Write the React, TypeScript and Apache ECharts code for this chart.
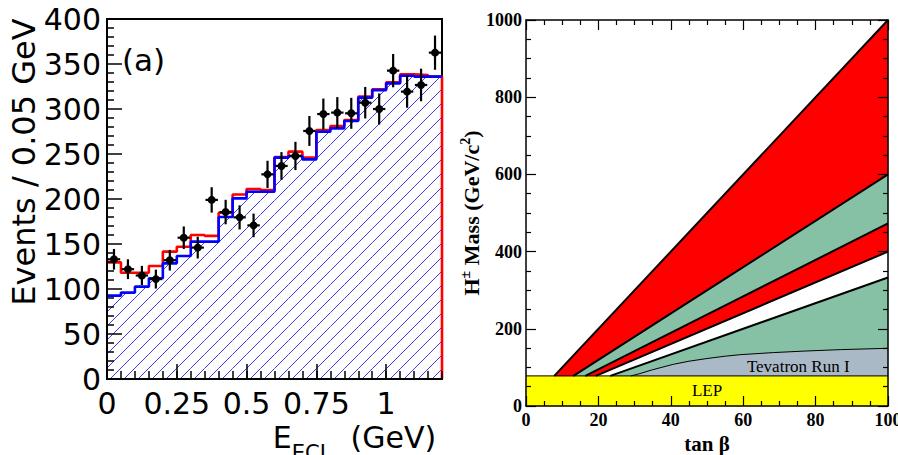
import React, { useEffect, useRef } from 'react';
import * as echarts from 'echarts';

// ---------------- Panel (a): E_ECL distribution ----------------
const binEdges = [0, 0.05, 0.1, 0.15, 0.2, 0.25, 0.3, 0.35, 0.4, 0.45, 0.5, 0.55, 0.6, 0.65, 0.7, 0.75, 0.8, 0.85, 0.9, 0.95, 1.0, 1.05, 1.1, 1.15, 1.2];
const dataCounts = [133, 122, 115, 111, 132, 157, 146, 199, 185.5, 179.6, 170.7, 227.4, 236.7, 247.8, 275.6, 294.4, 296, 295.2, 307, 300, 342.6, 319.3, 326.7, 362.6];
const dataErrors = [11.5, 11, 10.7, 10.5, 11.5, 12.5, 12.1, 14.1, 13.6, 13.4, 13.1, 15.1, 15.4, 15.7, 16.6, 17.2, 17.2, 17.2, 17.5, 17.3, 18.5, 17.9, 18.1, 19];
const backgroundCounts = [92.6, 96, 102.6, 112, 128.5, 136.7, 152.6, 152.6, 180, 200.7, 208, 208, 246, 247.8, 244, 274.8, 278.5, 286.7, 312.6, 321, 328.5, 337, 336, 336];
const totalCounts = [129.6, 118, 118, 125.5, 141.5, 147, 160, 159, 184.8, 205, 211, 210, 246.7, 252.6, 246, 276.7, 281, 287.8, 313.7, 322, 329.6, 338.5, 337.8, 336];

// ---------------- Panel (b): charged Higgs exclusion ----------------
const LEP_LIMIT = 78;
const boundary1 = [[7.8, 78], [100, 1000]];
const boundary2 = [[13.1, 78], [100, 600]];
const boundary3 = [[16.4, 78], [100, 473]];
const boundary4 = [[19.3, 78], [100, 400]];
const boundary5 = [[23.3, 78], [100, 333]];
const tevatronCurve = [[29, 78], [31.5, 84], [35, 94], [40.7, 108], [45, 116], [50, 123], [55, 129], [59.2, 133], [68.4, 138.4], [77.6, 142.6], [86.8, 146], [100, 149.5]];
const regionLabels = ['Tevatron Run I', 'LEP'];
const regionLabelAt = [[75.2, 103], [50, 39]];

const RED = '#ff0000';
const GREEN = '#86c1a5';
const GREY = '#a9bac6';
const YELLOW = '#ffff00';

const SANS = 'DejaVu Sans';
const SERIF = 'Liberation Serif';

const HATCH_SPACING = 14;
const HATCH_PHASE = 13;

function histPoints(counts: number[]) {
  return binEdges.map((e, i) => [e, counts[Math.min(i, counts.length - 1)]]);
}

function renderHatch(params: any, api: any) {
  const x0 = api.value(0), x1 = api.value(1), h = api.value(2);
  const pA = api.coord([x0, 0]);
  const pB = api.coord([x1, h]);
  const xa = pA[0], xb = pB[0], ybot = pA[1], ytop = pB[1];
  const children: any[] = [];
  const kStart = Math.ceil((xa + ytop - HATCH_PHASE) / HATCH_SPACING);
  const kEnd = Math.floor((xb + ybot - HATCH_PHASE) / HATCH_SPACING);
  for (let k = kStart; k <= kEnd; k++) {
    const c = k * HATCH_SPACING + HATCH_PHASE;
    const xs = Math.max(xa, c - ybot);
    const xe = Math.min(xb, c - ytop);
    if (xe - xs > 0.01) {
      children.push({
        type: 'line',
        shape: { x1: xs, y1: c - xs, x2: xe, y2: c - xe },
        style: { stroke: '#3a3aff', lineWidth: 1 },
      });
    }
  }
  return { type: 'group', children };
}

function renderPoint(params: any, api: any) {
  const x0 = api.value(0), x1 = api.value(1), y = api.value(2), err = api.value(3);
  const xm = (x0 + x1) / 2;
  const c = api.coord([xm, y]);
  const lo = api.coord([xm, y - err]);
  const hi = api.coord([xm, y + err]);
  const l = api.coord([x0, y]);
  const r = api.coord([x1, y]);
  const st = { stroke: '#000', lineWidth: 2.2 };
  return {
    type: 'group',
    children: [
      { type: 'line', shape: { x1: c[0], y1: lo[1], x2: c[0], y2: hi[1] }, style: st },
      { type: 'line', shape: { x1: l[0] + 0.8, y1: c[1], x2: r[0] - 0.8, y2: c[1] }, style: st },
      { type: 'circle', shape: { cx: c[0], cy: c[1], r: 4 }, style: { fill: '#000' } },
    ],
  };
}

function polygonSeries(points: number[][], color: string) {
  return {
    type: 'custom',
    xAxisIndex: 2,
    yAxisIndex: 1,
    z: 1,
    silent: true,
    data: [[points[0][0], points[0][1]]],
    renderItem: (params: any, api: any) => ({
      type: 'polygon',
      shape: { points: points.map((p) => api.coord(p)) },
      style: { fill: color, stroke: color, lineWidth: 0.5 },
    }),
  };
}

function boundarySeries(points: number[][], width: number) {
  return {
    type: 'line',
    xAxisIndex: 2,
    yAxisIndex: 1,
    z: 3,
    symbol: 'none',
    silent: true,
    data: points,
    lineStyle: { color: '#000', width },
  };
}

export default function App() {
  const ref = useRef<HTMLDivElement>(null);

  useEffect(() => {
    if (!ref.current) return;
    const chart = echarts.init(ref.current, undefined, { renderer: 'svg' });

    const binRows = backgroundCounts.map((v, i) => [binEdges[i], binEdges[i + 1], v]);
    const pointRows = dataCounts.map((v, i) => [binEdges[i], binEdges[i + 1], v, dataErrors[i]]);
    const redPts = histPoints(totalCounts);
    redPts.push([binEdges[binEdges.length - 1], 0]);
    const bluePts = histPoints(backgroundCounts);

    const lepPoly = [[0, 0], [100, 0], [100, LEP_LIMIT], [0, LEP_LIMIT]];
    const tevPoly = [...tevatronCurve, [100, LEP_LIMIT]];
    const greenLow = [boundary5[0], boundary5[1], ...[...tevatronCurve].reverse()];
    const redMid = [boundary3[0], boundary3[1], boundary4[1], boundary4[0]];
    const greenMid = [boundary2[0], boundary2[1], boundary3[1], boundary3[0]];
    const redTop = [boundary1[0], boundary1[1], boundary2[1], boundary2[0]];

    const leftTick = { show: true, inside: true, length: 15, lineStyle: { color: '#000', width: 1.5 } };
    const rightAxisCommon = {
      gridIndex: 1,
      z: 10,
      splitLine: { show: false },
      axisLine: { show: true, onZero: false, lineStyle: { color: '#000', width: 1.5 } },
      axisTick: { show: true, inside: true, length: 10, lineStyle: { color: '#000', width: 1.2 } },
      minorTick: { show: true, splitNumber: 4, length: 5, lineStyle: { color: '#000', width: 1.2 } },
    };
    const serifLabel = { fontFamily: SERIF, fontWeight: 'bold', fontSize: 18, color: '#000', formatter: (v: number) => String(v) };

    chart.setOption({
      animation: false,
      backgroundColor: '#fff',
      grid: [
        { left: 107, top: 19, width: 335, height: 360, show: true, borderColor: '#000', borderWidth: 2, backgroundColor: 'transparent', outerBoundsMode: 'none', containLabel: false },
        { left: 526, top: 20, width: 362, height: 386, show: false, outerBoundsMode: 'none', containLabel: false },
      ],
      xAxis: [
        {
          gridIndex: 0, type: 'value', min: 0, max: 1.2, interval: 0.25, position: 'bottom', z: 10,
          splitLine: { show: false },
          axisLine: { show: true, onZero: false, lineStyle: { color: '#000', width: 2 } },
          axisTick: leftTick,
          axisLabel: { fontFamily: SANS, fontSize: 30, color: '#000', margin: 9, showMaxLabel: false, formatter: (v: number) => String(v) },
          name: '{a|E}{s|ECL}{a|  (GeV)}',
          nameLocation: 'middle',
          nameGap: 37,
          nameTextStyle: {
            align: 'center', verticalAlign: 'top', padding: [0, 0, 0, 160],
            rich: {
              a: { fontFamily: SANS, fontSize: 30, lineHeight: 34, color: '#000', verticalAlign: 'top' },
              s: { fontFamily: SANS, fontSize: 21, lineHeight: 21, padding: [20, 0, 0, 0], color: '#000', verticalAlign: 'top' },
            },
          },
        },
        {
          gridIndex: 0, type: 'value', min: 0, max: 1.2, interval: 0.05, position: 'bottom', z: 10,
          splitLine: { show: false },
          axisLine: { show: false },
          axisTick: { show: true, inside: true, length: 8, lineStyle: { color: '#000', width: 1.5 } },
          axisLabel: { show: false },
        },
        {
          ...rightAxisCommon, type: 'value', min: 0, max: 100, interval: 20, position: 'bottom',
          axisLabel: { ...serifLabel, margin: 5 },
          name: 'tan β', nameLocation: 'middle', nameGap: 27,
          nameTextStyle: { fontFamily: SERIF, fontWeight: 'bold', fontSize: 21, color: '#000' },
        },
        {
          ...rightAxisCommon, type: 'value', min: 0, max: 100, interval: 20, position: 'top',
          axisLabel: { show: false },
        },
      ],
      yAxis: [
        {
          gridIndex: 0, type: 'value', min: 0, max: 400, interval: 50, z: 10,
          splitLine: { show: false },
          axisLine: { show: true, onZero: false, lineStyle: { color: '#000', width: 2 } },
          axisTick: leftTick,
          minorTick: { show: true, splitNumber: 5, length: 7, lineStyle: { color: '#000', width: 1.5 } },
          axisLabel: { fontFamily: SANS, fontSize: 30, color: '#000', margin: 6, formatter: (v: number) => String(v) },
          name: 'Events / 0.05 GeV',
          nameLocation: 'middle',
          nameGap: 62,
          nameTextStyle: { fontFamily: SANS, fontSize: 32, color: '#000', align: 'center', padding: [0, 0, 0, 74] },
        },
        {
          ...rightAxisCommon, type: 'value', min: 0, max: 1000, interval: 200, position: 'left',
          axisLabel: { ...serifLabel, margin: 4 },
          name: '{b|H}{sup|±}{b| Mass (GeV/c}{sup|2}{b|)}',
          nameLocation: 'middle', nameGap: 34,
          nameTextStyle: {
            rich: {
              b: { fontFamily: SERIF, fontWeight: 'bold', fontSize: 22, lineHeight: 26, color: '#000' },
              sup: { fontFamily: SERIF, fontWeight: 'bold', fontSize: 14, color: '#000', verticalAlign: 'top' },
            },
          },
        },
        {
          ...rightAxisCommon, type: 'value', min: 0, max: 1000, interval: 200, position: 'right',
          axisLabel: { show: false },
        },
      ],
      graphic: [
        { type: 'text', left: 122, top: 44, style: { text: '(a)', fontFamily: SANS, fontSize: 31, fill: '#000' } },
      ],
      series: [
        {
          type: 'custom', xAxisIndex: 0, yAxisIndex: 0, z: 1, silent: true,
          encode: { x: [0, 1], y: 2 },
          data: binRows,
          renderItem: renderHatch,
        },
        {
          type: 'line', xAxisIndex: 0, yAxisIndex: 0, z: 3, step: 'end', symbol: 'none', clip: false, silent: true,
          data: redPts,
          lineStyle: { color: RED, width: 2.6 },
        },
        {
          type: 'line', xAxisIndex: 0, yAxisIndex: 0, z: 4, step: 'end', symbol: 'none', clip: false, silent: true,
          data: bluePts,
          lineStyle: { color: '#0000ff', width: 2.6 },
        },
        {
          type: 'custom', xAxisIndex: 0, yAxisIndex: 0, z: 6, silent: true,
          encode: { x: [0, 1], y: 2 },
          data: pointRows,
          renderItem: renderPoint,
        },
        polygonSeries(lepPoly, YELLOW),
        polygonSeries(tevPoly, GREY),
        polygonSeries(greenLow, GREEN),
        polygonSeries(redMid, RED),
        polygonSeries(greenMid, GREEN),
        polygonSeries(redTop, RED),
        boundarySeries(boundary1, 2),
        boundarySeries(boundary2, 2),
        boundarySeries(boundary3, 2),
        boundarySeries(boundary4, 2),
        boundarySeries(boundary5, 2),
        boundarySeries(tevatronCurve, 1),
        boundarySeries([[0, LEP_LIMIT], [100, LEP_LIMIT]], 1),
        {
          type: 'custom', xAxisIndex: 2, yAxisIndex: 1, z: 5, silent: true,
          data: regionLabelAt.map((p, i) => [p[0], p[1], i]),
          renderItem: (params: any, api: any) => {
            const p = api.coord([api.value(0), api.value(1)]);
            return {
              type: 'text',
              x: p[0], y: p[1],
              style: {
                text: regionLabels[api.value(2)],
                fontFamily: SERIF, fontSize: 17, fill: '#000',
                align: 'center', verticalAlign: 'middle',
              },
            };
          },
        },
      ],
    });

    return () => chart.dispose();
  }, []);

  return (
    <div
      ref={ref}
      style={{ position: 'fixed', left: 0, top: 0, width: 898, height: 455, background: '#fff' }}
    />
  );
}
